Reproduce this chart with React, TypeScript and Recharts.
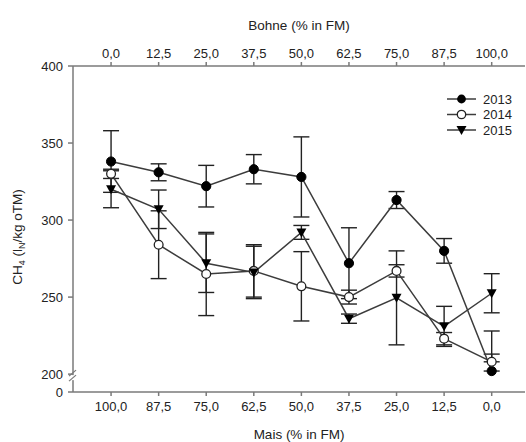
import React from 'react';
import { ComposedChart, Line, XAxis, YAxis, ErrorBar } from 'recharts';

const maisLabels = ['100,0', '87,5', '75,0', '62,5', '50,0', '37,5', '25,0', '12,5', '0,0'];
const bohneLabels = ['0,0', '12,5', '25,0', '37,5', '50,0', '62,5', '75,0', '87,5', '100,0'];

const ch4_2013 = [338, 331, 322, 333, 328, 272, 313, 280, 202];
const errLow_2013 = [20, 5.5, 13.5, 9.5, 26, 23, 5.5, 8, 0];
const errHigh_2013 = [20, 5.5, 13.5, 9.5, 26, 23, 5.5, 8, 11];
const ch4_2014 = [330, 284, 265, 267, 257, 250, 267, 223, 208];
const errLow_2014 = [3, 22, 27, 17, 22.5, 4.5, 4, 4, 0];
const errHigh_2014 = [3, 22, 27, 17, 22.5, 4.5, 4, 4, 20];
const ch4_2015 = [320, 307, 272, 266, 292, 236, 249.5, 231, 252.5];
const errLow_2015 = [12, 12.5, 19, 17, 4.5, 3, 30.5, 13, 12.7];
const errHigh_2015 = [12, 12.5, 19, 17, 4.5, 3, 30.5, 13, 12.7];

const Y_BREAK = 188.4;
const yTicks = [Y_BREAK, 200, 250, 300, 350, 400];
const xTicks = [0, 1, 2, 3, 4, 5, 6, 7, 8];

const data = maisLabels.map((m, i) => ({
  i,
  y2013: ch4_2013[i], e2013: [errLow_2013[i], errHigh_2013[i]],
  y2014: ch4_2014[i], e2014: [errLow_2014[i], errHigh_2014[i]],
  y2015: ch4_2015[i], e2015: [errLow_2015[i], errHigh_2015[i]],
}));

const AXIS = '#7a7a7a';
const LINE = '#3c3c3c';
const FONT = 'Liberation Sans, Arial, sans-serif';

const YTick = (props: any) => {
  const { x, y, payload } = props;
  const v = payload.value;
  const label = v === Y_BREAK ? '0' : String(v);
  const ax = x + 10;
  return (
    <g>
      <text x={x} y={y} dy={4.5} textAnchor="end" fontSize={13} fill="#222" fontFamily={FONT}>{label}</text>
      {v === 200 && (
        <g>
          <rect x={ax - 3} y={y + 1} width={6} height={5} fill="#fff" />
          <line x1={ax - 4} y1={y + 2} x2={ax + 3} y2={y - 4} stroke={AXIS} strokeWidth={1.3} />
          <line x1={ax - 4} y1={y + 7} x2={ax + 3} y2={y + 1} stroke={AXIS} strokeWidth={1.3} />
        </g>
      )}
    </g>
  );
};

const FilledDot = (props: any) => {
  const { cx, cy, index } = props;
  if (cx == null || cy == null) return <g key={index} />;
  return <circle key={index} cx={cx} cy={cy} r={4.6} fill="#000" stroke="#000" strokeWidth={1} />;
};
const OpenDot = (props: any) => {
  const { cx, cy, index } = props;
  if (cx == null || cy == null) return <g key={index} />;
  return <circle key={index} cx={cx} cy={cy} r={4.4} fill="#fff" stroke="#222" strokeWidth={1.3} />;
};
const TriDot = (props: any) => {
  const { cx, cy, index } = props;
  if (cx == null || cy == null) return <g key={index} />;
  return <path key={index} d={`M${cx - 5},${cy - 4} L${cx + 5},${cy - 4} L${cx},${cy + 5} Z`} fill="#000" />;
};

const LegendBox = () => {
  const rows = [
    { name: '2013', kind: 'filled' },
    { name: '2014', kind: 'open' },
    { name: '2015', kind: 'tri' },
  ];
  return (
    <svg width={80} height={48} style={{ display: 'block' }}>
      {rows.map((r, k) => {
        const cy = 8 + k * 15.5;
        return (
          <g key={r.name}>
            <line x1={2} y1={cy} x2={31} y2={cy} stroke={LINE} strokeWidth={1.5} />
            {r.kind === 'filled' && <circle cx={16.5} cy={cy} r={4.4} fill="#000" />}
            {r.kind === 'open' && <circle cx={16.5} cy={cy} r={4.2} fill="#fff" stroke="#222" strokeWidth={1.3} />}
            {r.kind === 'tri' && <path d={`M${11.5},${cy - 4} L${21.5},${cy - 4} L${16.5},${cy + 5} Z`} fill="#000" />}
            <text x={38} y={cy} dy={4.5} fontSize={13} fill="#222" fontFamily={FONT}>{r.name}</text>
          </g>
        );
      })}
    </svg>
  );
};

const TopTitle = (props: any) => {
  const vb = props.viewBox;
  return (
    <text x={vb.x + vb.width / 2} y={vb.y + 25} dy={5} textAnchor="middle" fontSize={13.5} fill="#222" fontFamily={FONT}>
      Bohne (% in FM)
    </text>
  );
};
const BottomTitle = (props: any) => {
  const vb = props.viewBox;
  return (
    <text x={vb.x + vb.width / 2} y={vb.y + 42} dy={5} textAnchor="middle" fontSize={13.5} fill="#222" fontFamily={FONT}>
      Mais (% in FM)
    </text>
  );
};
const YTitle = (props: any) => {
  const vb = props.viewBox;
  const cx = 17;
  const cy = vb.y + vb.height / 2 + 8;
  return (
    <text x={cx} y={cy} transform={`rotate(-90 ${cx} ${cy})`} dy={5} textAnchor="middle" fontSize={13.5} fill="#222" fontFamily={FONT}>
      CH<tspan fontSize={9} dy={3}>4</tspan>
      <tspan dy={-3}> (l</tspan>
      <tspan fontSize={9} dy={3}>N</tspan>
      <tspan dy={-3}>/kg oTM)</tspan>
    </text>
  );
};

export default function App() {
  return (
    <div style={{ position: 'absolute', left: 0, top: 0, width: 526, height: 442, background: '#fff' }}>
      <ComposedChart width={526} height={442} data={data} margin={{ top: 0, right: 1, left: 0, bottom: 0 }}>
        <XAxis
          xAxisId="bottom"
          dataKey="i"
          type="number"
          domain={[-0.8, 8.7]}
          ticks={xTicks}
          tickFormatter={(v: number) => maisLabels[v]}
          height={50}
          stroke={AXIS}
          strokeWidth={1.5}
          tickSize={4}
          tickMargin={6}
          tick={{ fontSize: 13, fill: '#222', fontFamily: FONT }}
          label={BottomTitle}
          allowDataOverflow
        />
        <XAxis
          xAxisId="top"
          orientation="top"
          dataKey="i"
          type="number"
          domain={[-0.8, 8.7]}
          ticks={xTicks}
          tickFormatter={(v: number) => bohneLabels[v]}
          height={66}
          stroke={AXIS}
          strokeWidth={1.5}
          tickSize={4}
          tickMargin={4}
          tick={{ fontSize: 13, fill: '#222', fontFamily: FONT }}
          label={TopTitle}
          allowDataOverflow
        />
        <YAxis
          type="number"
          domain={[Y_BREAK, 400]}
          ticks={yTicks}
          width={73}
          stroke={AXIS}
          strokeWidth={1.5}
          tickSize={5}
          tickMargin={5}
          tick={<YTick />}
          label={YTitle}
          allowDataOverflow
          interval={0}
        />
        <Line xAxisId="bottom" dataKey="y2013" name="2013" stroke={LINE} strokeWidth={1.5} dot={FilledDot} isAnimationActive={false}>
          <ErrorBar dataKey="e2013" direction="y" width={8} stroke="#222" strokeWidth={1.4} />
        </Line>
        <Line xAxisId="bottom" dataKey="y2014" name="2014" stroke={LINE} strokeWidth={1.5} dot={OpenDot} isAnimationActive={false}>
          <ErrorBar dataKey="e2014" direction="y" width={8} stroke="#222" strokeWidth={1.4} />
        </Line>
        <Line xAxisId="bottom" dataKey="y2015" name="2015" stroke={LINE} strokeWidth={1.5} dot={TriDot} isAnimationActive={false}>
          <ErrorBar dataKey="e2015" direction="y" width={8} stroke="#222" strokeWidth={1.4} />
        </Line>
      </ComposedChart>
      <div style={{ position: 'absolute', left: 445, top: 91 }}>
        <LegendBox />
      </div>
    </div>
  );
}
